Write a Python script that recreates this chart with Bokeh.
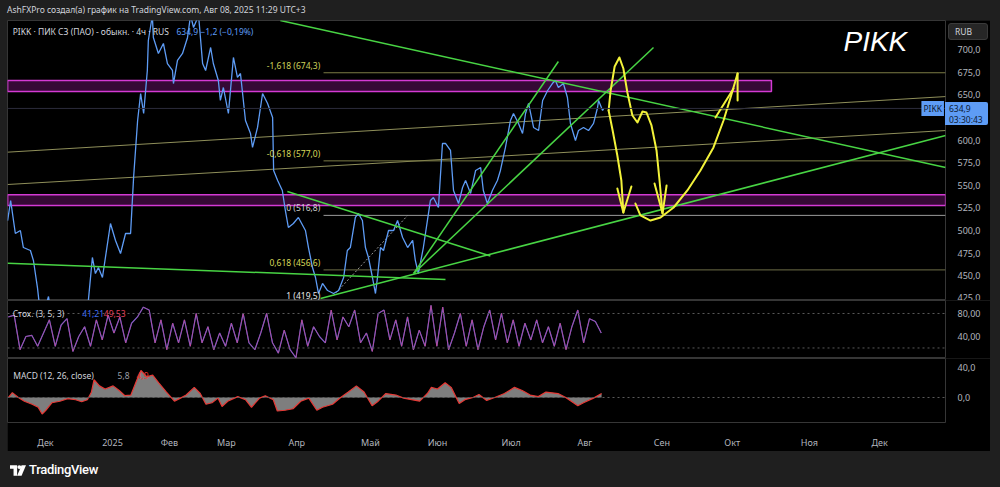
import numpy as np
from bokeh.plotting import figure
from bokeh.models import Range1d, FixedTicker, Label, Span, Div, Spacer
from bokeh.layouts import column, row
from bokeh.embed import file_html
from bokeh.resources import INLINE

# ---------------- data (x = trading-day index, 0 = start of Dec 2024) ----------------
bar_idx = [-11.3, -10.4, -9.0, -7.5, -6.6, -4.5, -3.6, -2.4, -1.8, -0.3, 0.9, 1.5, 4.5, 7.5, 11.9, 12.8,
           14.0, 14.9, 15.8, 17.0, 19.4, 20.9, 22.4, 23.9, 25.4, 26.3, 27.5, 28.4, 29.3, 30.4, 30.7, 31.9,
           32.2, 33.7, 35.2, 36.4, 37.9, 38.2, 39.4, 40.9, 42.4, 43.3, 44.2, 45.7, 46.9, 47.8, 49.3, 50.1,
           51.6, 52.2, 53.1, 54.6, 56.1, 57.3, 58.2, 59.7, 61.2, 61.8, 63.3, 64.8, 66.3, 67.8, 68.1, 69.3,
           70.7, 71.6, 72.5, 74.0, 75.5, 77.6, 78.5, 79.7, 80.6, 81.5, 82.7, 84.2, 86.0, 87.5, 89.0, 90.1,
           91.0, 92.5, 93.4, 94.6, 95.5, 96.4, 97.6, 98.5, 99.1, 100.0, 100.9, 102.4, 103.9, 105.1, 106.6,
           108.1, 109.6, 110.4, 111.3, 112.8, 114.0, 114.9, 115.8, 117.3, 118.5, 119.4, 120.9, 121.8, 123.3,
           124.5, 125.4, 126.9, 128.4, 129.9, 130.7, 131.9, 133.4, 134.9, 135.8, 137.3, 138.8, 139.7, 141.2,
           142.4, 143.3, 144.2, 145.7, 147.2, 148.4, 149.9, 151.3, 152.2, 153.1, 154.6, 155.8, 156.7, 158.2,
           159.1, 160.6, 162.1, 163.6, 164.8, 165.1, 166.3, 166.6]
close = [511.1, 533.2, 496.8, 500.1, 481.3, 478.0, 467.0, 437.1, 417.3, 411.8, 427.2, 411.8, 409.5, 411.8,
         409.5, 422.8, 470.3, 452.6, 459.2, 448.2, 507.8, 489.1, 474.7, 496.8, 496.8, 558.6, 621.6, 651.4,
         629.3, 676.8, 709.9, 737.5, 713.3, 695.6, 706.6, 684.5, 676.8, 662.4, 687.9, 695.6, 713.3, 737.5,
         724.3, 737.5, 684.5, 676.8, 702.2, 684.5, 665.8, 643.7, 658.0, 629.3, 691.2, 669.1, 673.5, 621.6,
         607.2, 591.8, 613.9, 651.4, 640.4, 624.9, 566.4, 555.3, 544.3, 522.2, 503.4, 507.8, 514.5, 500.1,
         481.3, 459.2, 448.2, 430.5, 441.6, 433.8, 430.5, 433.8, 448.2, 478.0, 481.3, 514.5, 518.9, 511.1,
         481.3, 470.3, 448.2, 430.5, 448.2, 481.3, 478.0, 500.1, 500.1, 511.1, 492.4, 481.3, 489.1, 467.0,
         452.6, 481.3, 511.1, 533.2, 536.5, 525.5, 596.2, 596.2, 588.5, 544.3, 529.9, 547.6, 555.3, 541.0,
         566.4, 569.7, 544.3, 529.9, 544.3, 555.3, 566.4, 591.8, 621.6, 629.3, 618.3, 607.2, 629.3, 640.4,
         613.9, 610.5, 643.7, 654.7, 662.4, 665.8, 658.0, 662.4, 647.0, 618.3, 599.5, 610.5, 613.9, 610.5,
         618.3, 635.9, 643.7, 632.6, 634.9]
last_close = 634.9
price_ticks = [425, 450, 475, 500, 525, 550, 575, 600, 625, 650, 675, 700]
month_idx = [0, 20, 37, 54, 75, 97, 117, 139, 161, 184, 205, 228, 249]
month_names = ["Дек", "2025", "Фев", "Мар", "Апр", "Май", "Июн", "Июл", "Авг", "Сен", "Окт", "Ноя", "Дек"]

# drawings
zone_left = [-11.3, -11.3]
zone_right = [216.7, 268.7]
zone_bottom = [653.6, 527.7]
zone_top = [665.8, 539.5]
fib_levels = [674.3, 577.0, 516.8, 456.6, 419.5]
fib_ratios = ["-1,618", "-0,618", "0", "0,618", "1"]
fib_start, fib_end = 83.0, 268.7
channel_x0 = [-11.3, -11.3]
channel_y0 = [586.6, 550.9]
channel_x1 = [268.7, 268.7]
channel_y1 = [648.0, 610.5]
trend_x0 = [70.1, -11.3, 72.2, 82.1, 109.9, 109.9]
trend_y0 = [732.0, 464.0, 543.2, 425.0, 452.6, 452.6]
trend_x1 = [268.7, 119.4, 132.8, 268.7, 153.1, 181.5]
trend_y1 = [569.7, 446.0, 471.9, 605.0, 686.7, 702.2]
fib_trend_x = [86.0, 108.1]
fib_trend_y = [428.3, 516.7]
yellow_paths = [
    ([168.1, 169.3, 170.7, 171.9, 172.5], [632.6, 610.5, 582.9, 555.3, 520.0]),
    ([170.7, 172.5, 174.9], [546.5, 520.0, 548.7]),
    ([168.1, 168.7, 169.9, 171.3, 172.5, 173.7, 175.2, 176.7, 178.2, 179.4, 180.9, 182.4, 183.3, 184.2],
     [632.6, 654.7, 681.2, 691.2, 679.0, 652.5, 627.1, 619.4, 631.5, 630.4, 616.1, 588.5, 555.3, 518.9]),
    ([181.8, 184.2, 185.4], [552.0, 518.9, 549.8]),
    ([176.1, 177.6, 180.6, 183.6, 187.5, 191.6, 195.5, 199.4, 202.4, 204.5, 206.6],
     [529.9, 516.7, 511.1, 514.5, 525.5, 544.3, 566.4, 591.8, 621.6, 647.0, 673.5]),
    ([206.6, 206.6], [673.5, 643.7]),
    ([200.0, 205.4], [624.9, 656.9]),
]

stoch_k = [74, 77, 17, 40, 42, 23, 46, 69, 23, 60, 71, 14, 40, 57, 23, 69, 34, 77, 46, 74, 29, 63, 74, 91,
           86, 29, 69, 17, 63, 29, 69, 23, 80, 29, 57, 17, 46, 23, 63, 29, 80, 29, 17, 46, 80, 29, 11, 51,
           17, 3, 69, 23, 57, 40, 29, 86, 34, 74, 57, 86, 29, 46, 14, 80, 86, 34, 69, 23, 74, 17, 51, 23,
           94, 23, 91, 17, 46, 80, 23, 69, 17, 57, 86, 34, 80, 29, 69, 23, 63, 34, 69, 29, 57, 23, 63, 17,
           57, 86, 29, 71, 66, 46]
stoch_first, stoch_last = -11.1, 165.9

macd_x = [-11.1, -9.9, -8.1, -6.3, -4.0, -2.2, -1.0, 0.1, 1.9, 4.3, 6.6, 9.0, 10.8, 12.5, 13.7, 14.5, 16.1,
          17.8, 20.2, 22.0, 23.7, 25.5, 27.3, 28.5, 30.2, 32.0, 33.8, 36.1, 38.5, 40.3, 42.0, 44.4, 46.2,
          47.9, 49.7, 51.5, 52.7, 54.4, 57.4, 59.7, 61.5, 63.9, 65.6, 68.0, 69.2, 71.5, 73.9, 76.2, 78.6,
          81.0, 82.7, 85.7, 88.1, 90.4, 92.8, 95.1, 97.5, 99.3, 101.6, 104.6, 106.9, 109.3, 111.7, 114.0,
          115.2, 117.0, 119.3, 121.1, 123.5, 125.2, 127.6, 129.4, 131.7, 134.1, 137.0, 140.0, 142.3, 144.7,
          147.1, 149.4, 153.0, 155.3, 158.9, 160.6, 163.6, 166.0]
macd_v = [0, 6.5, 0, -5, -9, -13, -22, -17, -7, -5, -1.6, -3, -5.7, -3, 7, 23.7, 15.5, 11.4, 15.5, 9.4,
          2.4, 3.3, 23.7, 36, 27.7, 29.8, 19.6, 7.3, -4.9, -0.8, 3.3, 13.5, 5.3, -9, -7, -0.8, -12, -4.9,
          1.2, -2.9, -13, -0.8, 2.4, -3, -18, -17, -15, -5, -0.8, -17, -13, -9, 0, 7.3, 15.5, 7.3, -11,
          -4.9, 5.3, 3.3, -0.8, -2.9, -4.9, 5.3, 13.5, 11.4, 19.6, 13.5, -8, -2.9, 0, 4, -4, 0, 5.3, 13.5,
          9.4, 3.3, 1.2, 7.3, 5.3, 0, -11, -7, -0.8, 5.3]

# ---------------- styling / geometry ----------------
BG = "#1f1f1f"
AX_TXT = "#b2b5be"
FONT = "Noto Sans"
HEADER_H, LEFT_PAD, FRAME_W, AXIS_W = 20, 7, 938, 45
MAIN_H, MAIN_Y0, MAIN_Y1 = 280, 422.8, 732.0
xr = Range1d(-11.34, 268.66)


def make_fig(fh, y0, y1, bottom=0, xaxis=False):
    f = figure(frame_width=FRAME_W, frame_height=fh, x_range=xr, y_range=Range1d(y0, y1),
               output_backend="svg", toolbar_location=None,
               x_axis_location="below" if xaxis else None, y_axis_location="right",
               min_border_left=0, min_border_right=AXIS_W, min_border_top=0, min_border_bottom=bottom,
               background_fill_color="black", border_fill_color="black",
               outline_line_color="#363636", outline_line_width=1, margin=0)
    f.grid.visible = False
    ya = f.yaxis[0]
    ya.axis_line_color = None
    ya.major_tick_line_color = None
    ya.minor_tick_line_color = None
    ya.major_label_text_color = AX_TXT
    ya.major_label_text_font = FONT
    ya.major_label_text_font_size = "9px"
    ya.major_label_standoff = 6
    return f


# ---------- main price pane ----------
p = make_fig(MAIN_H, MAIN_Y0, MAIN_Y1)
p.yaxis.ticker = FixedTicker(ticks=price_ticks)
p.yaxis.major_label_overrides = {t: f"{t},0" for t in price_ticks}

p.quad(left=zone_left, right=zone_right, bottom=zone_bottom, top=zone_top,
       fill_color="#3b0a3b", fill_alpha=0.9, line_color="#d43ad4", line_width=1.5)
p.add_layout(Span(location=last_close, dimension="width", line_color="#2c2c3c", line_width=1))
p.segment(x0=channel_x0, y0=channel_y0, x1=channel_x1, y1=channel_y1, line_color="#8f8f5a", line_width=1)
fib_colors = ["#7b7b45", "#7b7b45", "#9a9a9a", "#6e6e48", "#9a9a9a"]
fib_text_colors = ["#cdd25a", "#d8d858", "#d0d0d0", "#d8d858", "#e6e6e6"]
p.segment(x0=[fib_start] * len(fib_levels), y0=fib_levels, x1=[fib_end] * len(fib_levels), y1=fib_levels,
          line_color=fib_colors, line_width=1)
for lvl, r, c in zip(fib_levels, fib_ratios, fib_text_colors):
    p.add_layout(Label(x=fib_start - 1, y=lvl, text=f"{r} ({str(lvl).replace('.', ',')})",
                       text_align="right", text_baseline="bottom", y_offset=2,
                       text_color=c, text_font=FONT, text_font_size="8.5px"))
p.line(fib_trend_x, fib_trend_y, line_color="#9a9a9a", line_dash="2 2", line_width=1)
p.line(bar_idx, close, line_color="#5e9cf5", line_width=1.3)
p.segment(x0=trend_x0, y0=trend_y0, x1=trend_x1, y1=trend_y1, line_color="#48d444", line_width=1.5)
for xs, ys in yellow_paths:
    p.line(xs, ys, line_color="#f2f23a", line_width=2, line_cap="round", line_join="round")

p.add_layout(Label(x=-9.8, y=719.9, text="PIKK · ПИК СЗ (ПАО) - обыкн. · 4ч · RUS", text_baseline="middle",
                   text_color="#d1d4dc", text_font=FONT, text_font_size="8.5px"))
p.add_layout(Label(x=39.1, y=719.9, text="634,9  −1,2 (−0,19%)", text_baseline="middle",
                   text_color="#5e9cf5", text_font=FONT, text_font_size="8.5px"))
p.add_layout(Label(x=238.2, y=708.8, text="PIKK", text_baseline="middle", text_color="white",
                   text_font="Liberation Sans", text_font_style="italic", text_font_size="28px"))
p.add_layout(Label(x=268.2, y=last_close, text="PIKK", text_align="right", text_baseline="middle",
                   text_color="#0d1a33", text_font=FONT, text_font_size="8.5px",
                   background_fill_color="#5e9cf5", padding=2))

# ---------- stochastic pane ----------
s = make_fig(58, 1.7, 102.6)
s.yaxis.ticker = FixedTicker(ticks=[40, 80])
s.yaxis.major_label_overrides = {40: "40,00", 80: "80,00"}
for lv in (80, 20):
    s.add_layout(Span(location=lv, dimension="width", line_color="#5a5a5a", line_dash="2 3", line_width=1))
sx = np.linspace(stoch_first, stoch_last, len(stoch_k))
s.line(sx, stoch_k, line_color="#3f6cf0", line_width=1.2)
s.line(sx, stoch_k, line_color="#e0407a", line_width=1.0, line_alpha=0.7)
s.add_layout(Label(x=-9.8, y=80, text="Стох. (3, 5, 3)", text_baseline="middle", text_color="#d1d4dc",
                   text_font=FONT, text_font_size="8.5px"))
s.add_layout(Label(x=11.0, y=80, text="41,21", text_baseline="middle", text_color="#3f6cf0",
                   text_font=FONT, text_font_size="8.5px"))
s.add_layout(Label(x=17.4, y=80, text="49,53", text_baseline="middle", text_color="#e0405a",
                   text_font=FONT, text_font_size="8.5px"))

# ---------- MACD pane ----------
m = make_fig(64, -33.3, 52.0, bottom=25, xaxis=True)
m.yaxis.ticker = FixedTicker(ticks=[0, 40])
m.yaxis.major_label_overrides = {0: "0,0", 40: "40,0"}
m.add_layout(Span(location=0, dimension="width", line_color="#5a5a5a", line_dash="2 3", line_width=1))
m.varea(x=macd_x, y1=[0] * len(macd_v), y2=macd_v, fill_color="#a8a8a8", fill_alpha=0.75)
m.line(macd_x, macd_v, line_color="#e53935", line_width=1.2)
m.add_layout(Label(x=-9.6, y=29.3, text="MACD (12, 26, close)", text_baseline="middle", text_color="#d1d4dc",
                   text_font=FONT, text_font_size="8.5px"))
m.add_layout(Label(x=21.5, y=29.3, text="5,8", text_baseline="middle", text_color="#9a9ea8",
                   text_font=FONT, text_font_size="8.5px"))
m.add_layout(Label(x=27.2, y=29.3, text="4,9", text_baseline="middle", text_color="#e53935",
                   text_font=FONT, text_font_size="8.5px"))
xa = m.xaxis[0]
xa.ticker = FixedTicker(ticks=month_idx)
xa.major_label_overrides = {i: n for i, n in zip(month_idx, month_names)}
xa.axis_line_color = None
xa.major_tick_line_color = None
xa.minor_tick_line_color = None
xa.major_label_text_color = AX_TXT
xa.major_label_text_font = FONT
xa.major_label_text_font_size = "9px"
xa.major_label_standoff = 7

header = Div(width=1000, height=HEADER_H, margin=0,
             text='<div style="padding-left:7px;line-height:20px;color:#d1d4dc;font-size:8.5px;'
                  'font-family:Noto Sans;white-space:nowrap">AshFXPro создал(а) график на TradingView.com, '
                  'Авг 08, 2025 11:29 UTC+3</div>')
footer = Div(width=1000, height=40, margin=0,
             text='<div style="padding-left:10px;padding-top:10px;display:flex;align-items:center;gap:3px;'
                  'color:#ffffff;font-family:Roboto;font-weight:500;font-size:13px;letter-spacing:-0.3px">'
                  '<svg width="16" height="11" viewBox="0 0 18 12"><path d="M0 0h8v12h-4v-8h-4z" fill="#fff"/>'
                  '<circle cx="10.5" cy="2.2" r="2.2" fill="#fff"/><path d="M13 0h5l-5 12h-5z" fill="#fff"/></svg>'
                  '<span>TradingView</span></div>')

# price-axis overlays (current price tag and currency box), placed over the axis column
axis_left = LEFT_PAD + FRAME_W
tag_mid = HEADER_H + (MAIN_Y1 - last_close) / (MAIN_Y1 - MAIN_Y0) * MAIN_H
price_tag = Div(width=43, height=23, margin=0,
                styles={"position": "absolute", "left": f"{axis_left}px", "top": f"{tag_mid - 6:.1f}px",
                        "z-index": "10"},
                text='<div style="width:43px;height:23px;background:#5e9cf5;border-radius:0 2px 2px 0;'
                     'color:#0d1a33;font-family:Noto Sans;font-size:8.5px;line-height:11px;'
                     'box-sizing:border-box;padding:1px 0 0 4px">'
                     f'{str(last_close).replace(".", ",")}<br>03:30:43</div>')
rub_box = Div(width=40, height=17, margin=0,
              styles={"position": "absolute", "left": f"{axis_left + 3}px", "top": f"{HEADER_H + 3}px",
                      "z-index": "10"},
              text='<div style="width:40px;height:17px;background:#262626;border:1px solid #3a3a3a;'
                   'border-radius:3px;box-sizing:border-box;color:#d1d4dc;font-family:Noto Sans;'
                   'font-size:8.5px;line-height:15px;padding-left:6px">RUB</div>')

charts = column(p, s, m, spacing=0, margin=0)
root = column(header,
              row(Spacer(width=LEFT_PAD, height=427, margin=0), charts, Spacer(width=10, height=427, margin=0),
                  spacing=0, margin=0),
              footer, price_tag, rub_box, spacing=0, margin=0,
              styles={"background-color": BG, "position": "relative"})

open("out.html", "w").write(file_html(root, INLINE))
